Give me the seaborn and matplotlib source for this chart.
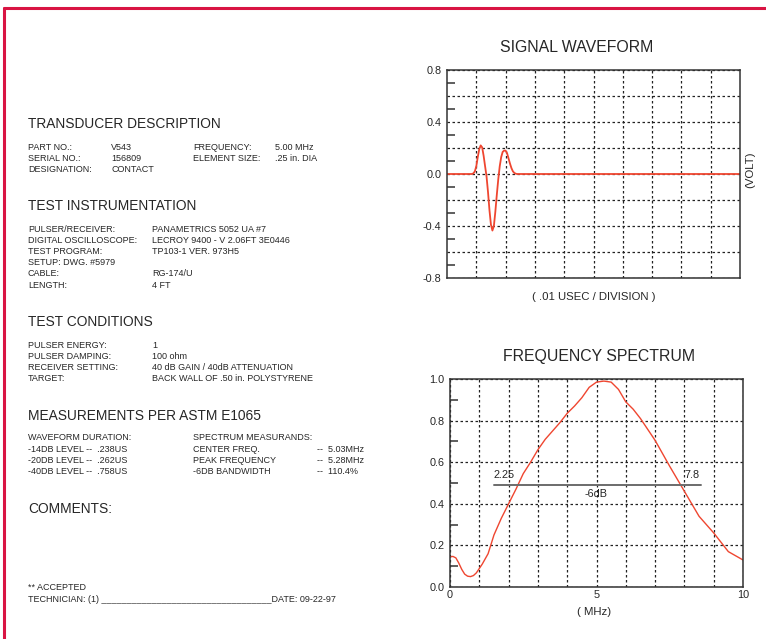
"""Transducer test report: signal waveform + frequency spectrum."""

import matplotlib
matplotlib.use("Agg")

import matplotlib.pyplot as plt
import seaborn as sns
from matplotlib.lines import Line2D
from matplotlib.ticker import FixedLocator

# ------------------------------------------------------------------
# Data
# ------------------------------------------------------------------
wave_div = [0.0, 0.85, 0.90, 0.95, 1.00, 1.05, 1.10, 1.15, 1.20, 1.25, 1.30,
            1.35, 1.40, 1.45, 1.50, 1.55, 1.60, 1.65, 1.70, 1.75, 1.80, 1.85,
            1.90, 1.95, 2.00, 2.05, 2.10, 2.15, 2.20, 2.25, 2.30, 2.35, 2.40,
            10.0]
wave_volt = [0.0, 0.0, 0.005, 0.02, 0.06, 0.13, 0.19, 0.22, 0.205, 0.14, 0.06,
             -0.02, -0.14, -0.28, -0.39, -0.435, -0.40, -0.29, -0.16, -0.04,
             0.06, 0.13, 0.17, 0.18, 0.18, 0.16, 0.12, 0.08, 0.045, 0.02,
             0.008, 0.002, 0.0, 0.0]

spec_mhz = [0.0, 0.1, 0.2, 0.3, 0.4, 0.5, 0.6, 0.7, 0.8, 0.9, 1.1, 1.3, 1.5,
            1.75, 2.0, 2.25, 2.5, 2.75, 3.0, 3.25, 3.5, 3.75, 4.0, 4.25, 4.5,
            4.75, 5.0, 5.25, 5.5, 5.75, 6.0, 6.25, 6.5, 7.0, 7.5, 8.0, 8.5,
            9.0, 9.5, 10.0]
spec_amp = [0.145, 0.147, 0.14, 0.115, 0.085, 0.062, 0.052, 0.05, 0.055,
            0.068, 0.11, 0.16, 0.25, 0.33, 0.40, 0.47, 0.545, 0.60, 0.66,
            0.71, 0.75, 0.79, 0.835, 0.87, 0.91, 0.96, 0.985, 0.99, 0.985,
            0.95, 0.89, 0.855, 0.81, 0.705, 0.58, 0.46, 0.34, 0.26, 0.17,
            0.13]

bw_low, bw_high, bw_level = 2.25, 7.8, 0.49
bw_line_span = [1.5, 8.55]

wave_yticks = [-0.8, -0.6, -0.4, -0.2, 0.0, 0.2, 0.4, 0.6, 0.8]
wave_ylabels = ["-0.8", "", "-0.4", "", "0.0", "", "0.4", "", "0.8"]
spec_yticks = [0.0, 0.2, 0.4, 0.6, 0.8, 1.0]
spec_xticks = list(range(11))
spec_xlabels = ["0", "", "", "", "", "5", "", "", "", "", "10"]

# report text: (label, value) rows
transducer_rows = [("PART NO.:", "V543"), ("SERIAL NO.:", "156809"),
                   ("DESIGNATION:", "CONTACT")]
transducer_right = [("FREQUENCY:", "5.00 MHz"), ("ELEMENT SIZE:", ".25 in. DIA")]
instrument_rows = [("PULSER/RECEIVER:", "PANAMETRICS 5052 UA #7"),
                   ("DIGITAL OSCILLOSCOPE:", "LECROY 9400 - V 2.06FT 3E0446"),
                   ("TEST PROGRAM:", "TP103-1 VER. 973H5"),
                   ("SETUP: DWG. #5979", ""),
                   ("CABLE:", "RG-174/U"),
                   ("LENGTH:", "4 FT")]
condition_rows = [("PULSER ENERGY:", "1"), ("PULSER DAMPING:", "100 ohm"),
                  ("RECEIVER SETTING:", "40 dB GAIN / 40dB ATTENUATION"),
                  ("TARGET:", "BACK WALL OF .50 in. POLYSTYRENE")]
duration_rows = ["WAVEFORM DURATION:", "-14DB LEVEL --  .238US",
                 "-20DB LEVEL --  .262US", "-40DB LEVEL --  .758US"]
spectrum_rows = [("SPECTRUM MEASURANDS:", ""), ("CENTER FREQ.", "--  5.03MHz"),
                 ("PEAK FREQUENCY", "--  5.28MHz"),
                 ("-6DB BANDWIDTH", "--  110.4%")]

# ------------------------------------------------------------------
# Style
# ------------------------------------------------------------------
sns.set_theme(style="white")
plt.rcParams["font.family"] = ["Liberation Sans", "DejaVu Sans"]

W, H = 766, 639
TXT = "#262626"
RED = "#ef4630"
GRID = dict(color="#222222", linestyle=(0, (2, 2)), linewidth=0.9)
BODY, HEAD, TITLE, TICK, LAB = 6.5, 9.9, 11.4, 7.8, 8.2

fig = plt.figure(figsize=(W / 100, H / 100), dpi=100)
fig.patch.set_facecolor("white")


def px(x, y):
    return x / W, 1 - y / H


def put(x, y, s, size=BODY, **kw):
    kw.setdefault("va", "center")
    kw.setdefault("ha", "left")
    fig.text(*px(x, y), s, fontsize=size, color=TXT, **kw)


# red page frame (top and left only)
fig.add_artist(Line2D([4 / W, 1], [1 - 7.5 / H] * 2, color="#d91443",
                      linewidth=2.2, transform=fig.transFigure))
fig.add_artist(Line2D([4 / W] * 2, [0, 1 - 7.5 / H], color="#d91443",
                      linewidth=2.2, transform=fig.transFigure))

# ------------------------------------------------------------------
# Left-hand report text
# ------------------------------------------------------------------
X0, XV, X2, X2V, X3 = 28, 111, 193, 275, 317

put(X0, 124, "TRANSDUCER DESCRIPTION", HEAD)
for i, (lab, val) in enumerate(transducer_rows):
    put(X0, 148 + 10.8 * i, lab)
    put(XV, 148 + 10.8 * i, val)
for i, (lab, val) in enumerate(transducer_right):
    put(X2, 148 + 10.8 * i, lab)
    put(X2V, 148 + 10.8 * i, val)

put(X0, 206, "TEST INSTRUMENTATION", HEAD)
for i, (lab, val) in enumerate(instrument_rows):
    put(X0, 229 + 11.2 * i, lab)
    put(152, 229 + 11.2 * i, val)

put(X0, 322, "TEST CONDITIONS", HEAD)
for i, (lab, val) in enumerate(condition_rows):
    put(X0, 345 + 11.1 * i, lab)
    put(152, 345 + 11.1 * i, val)

put(X0, 416, "MEASUREMENTS PER ASTM E1065", HEAD)
for i, s in enumerate(duration_rows):
    put(X0, 438 + 11.3 * i, s)
for i, (lab, val) in enumerate(spectrum_rows):
    put(X2, 438 + 11.3 * i, lab)
    put(X3, 438 + 11.3 * i, val)

put(X0, 509, "COMMENTS:", HEAD)
put(X0, 587, "** ACCEPTED")
put(X0, 599, "TECHNICIAN: (1) " + "_" * 34 + "DATE: 09-22-97")


# ------------------------------------------------------------------
# Charts
# ------------------------------------------------------------------
def style_axes(ax):
    for sp in ax.spines.values():
        sp.set_color("#333333")
        sp.set_linewidth(1.1)
    ax.grid(True, which="major", **GRID)
    ax.tick_params(which="major", length=0, labelsize=TICK, colors=TXT, pad=4)
    ax.tick_params(which="minor", axis="y", direction="in", length=6,
                   width=1.1, color="#333333", left=True)
    ax.set_xlabel("")
    ax.set_ylabel("")


# signal waveform
l, r, t, b = 447, 740, 70, 278
ax1 = fig.add_axes([l / W, 1 - b / H, (r - l) / W, (b - t) / H])
sns.lineplot(x=wave_div, y=wave_volt, ax=ax1, color=RED, linewidth=1.3)
ax1.set_xlim(0, 10)
ax1.set_ylim(-0.8, 0.8)
ax1.set_xticks(range(1, 10))
ax1.set_xticklabels([])
ax1.set_yticks(wave_yticks)
ax1.set_yticklabels(wave_ylabels)
ax1.yaxis.set_minor_locator(FixedLocator([-0.7, -0.5, -0.3, -0.1,
                                          0.1, 0.3, 0.5, 0.7]))
style_axes(ax1)
put(577, 48, "SIGNAL WAVEFORM", TITLE, ha="center")
put(594, 297, "( .01 USEC / DIVISION )", LAB, ha="center")
put(750, 170, "(VOLT)", LAB, ha="center", rotation=90)

# frequency spectrum
l, r, t, b = 450, 743, 379, 587
ax2 = fig.add_axes([l / W, 1 - b / H, (r - l) / W, (b - t) / H])
sns.lineplot(x=spec_mhz, y=spec_amp, ax=ax2, color=RED, linewidth=1.0)
ax2.set_xlim(0, 10)
ax2.set_ylim(0, 1.0)
ax2.set_xticks(spec_xticks)
ax2.set_xticklabels(spec_xlabels)
ax2.set_yticks(spec_yticks)
ax2.set_yticklabels([f"{v:.1f}" for v in spec_yticks])
ax2.yaxis.set_minor_locator(FixedLocator([0.1, 0.3, 0.5, 0.7, 0.9]))
style_axes(ax2)
ax2.tick_params(axis="x", pad=2)
ax2.plot(bw_line_span, [bw_level, bw_level], color="#6b6b6b", linewidth=1.4)
ax2.text(1.5, bw_level + 0.025, f"{bw_low:g}", fontsize=TICK, color=TXT,
         ha="left", va="bottom")
ax2.text(8.0, bw_level + 0.025, f"{bw_high:g}", fontsize=TICK, color=TXT,
         ha="left", va="bottom")
ax2.text(5.0, bw_level - 0.02, "-6dB", fontsize=TICK, color=TXT,
         ha="center", va="top")
put(599, 357, "FREQUENCY SPECTRUM", TITLE, ha="center")
put(594, 612, "( MHz)", LAB, ha="center")

fig.savefig("out.png", dpi=100, facecolor="white")
